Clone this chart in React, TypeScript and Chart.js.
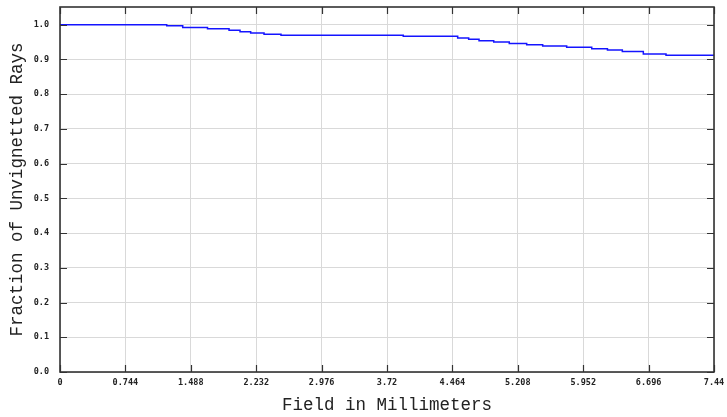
import React, { useEffect, useRef } from "react";
import { Chart, registerables } from "chart.js";

Chart.register(...registerables);

// Field positions (mm) where each vignetting step begins, with the fraction that holds from there on
const fieldMm = [0, 1.214, 1.396, 1.678, 1.923, 2.048, 2.169, 2.321, 2.514, 3.905, 4.524, 4.649, 4.767, 4.934, 5.111, 5.309, 5.491, 5.764, 6.049, 6.228, 6.397, 6.636, 6.894, 7.44];
const fraction = [1.0, 0.997, 0.992, 0.9885, 0.984, 0.98, 0.976, 0.9726, 0.97, 0.9665, 0.9616, 0.958, 0.954, 0.95, 0.946, 0.942, 0.9385, 0.935, 0.931, 0.927, 0.923, 0.916, 0.912, 0.912];

const xTicks = [0, 0.744, 1.488, 2.232, 2.976, 3.72, 4.464, 5.208, 5.952, 6.696, 7.44];
const xTickLabels = ["0", "0.744", "1.488", "2.232", "2.976", "3.72", "4.464", "5.208", "5.952", "6.696", "7.44"];
const yTicks = [0, 0.1, 0.2, 0.3, 0.4, 0.5, 0.6, 0.7, 0.8, 0.9, 1.0];
const yTickLabels = ["0.0", "0.1", "0.2", "0.3", "0.4", "0.5", "0.6", "0.7", "0.8", "0.9", "1.0"];

const xTitle = "Field in Millimeters";
const yTitle = "Fraction of Unvignetted Rays";

const framePlugin = {
  id: "frameAndInwardTicks",
  afterDraw(chart: any) {
    const { ctx, chartArea } = chart;
    const { left, right, top, bottom } = chartArea;
    const xs = chart.scales.x;
    const ys = chart.scales.y;
    ctx.save();
    ctx.strokeStyle = "#333333";
    ctx.lineWidth = 1.2;
    const tl = 7;
    ctx.beginPath();
    xTicks.forEach((v) => {
      const px = Math.round(xs.getPixelForValue(v)) + 0.5;
      ctx.moveTo(px, bottom);
      ctx.lineTo(px, bottom - tl);
      ctx.moveTo(px, top);
      ctx.lineTo(px, top + tl);
    });
    yTicks.forEach((v) => {
      const py = Math.round(ys.getPixelForValue(v)) + 0.5;
      ctx.moveTo(left, py);
      ctx.lineTo(left + tl, py);
      ctx.moveTo(right, py);
      ctx.lineTo(right - tl, py);
    });
    ctx.stroke();
    ctx.lineWidth = 1.6;
    ctx.strokeRect(left, top, right - left, bottom - top);

    ctx.fillStyle = "#222222";
    ctx.font = "17.5px 'Liberation Mono'";
    ctx.textAlign = "center";
    ctx.textBaseline = "middle";
    ctx.fillText(xTitle, (left + right) / 2, 405);
    ctx.translate(17, (top + bottom) / 2);
    ctx.rotate(-Math.PI / 2);
    ctx.fillText(yTitle, 0, 0);
    ctx.restore();
  },
};

const zeroPad = (scale: any) => {
  scale.paddingLeft = 0;
  scale.paddingRight = 0;
  scale.paddingTop = 0;
  scale.paddingBottom = 0;
};

export default function App() {
  const ref = useRef<HTMLCanvasElement | null>(null);
  useEffect(() => {
    if (!ref.current) return;
    const points = fieldMm.map((x, i) => ({ x, y: fraction[i] }));
    const tickFont = { family: "'DejaVu Sans Mono'", size: 8.5, weight: "bold" as const };
    const chart = new Chart(ref.current, {
      type: "line",
      data: {
        datasets: [
          {
            data: points,
            borderColor: "rgb(20,20,255)",
            borderWidth: 1.5,
            pointRadius: 0,
            stepped: true,
            fill: false,
          },
        ],
      },
      plugins: [framePlugin],
      options: {
        animation: false,
        responsive: false,
        devicePixelRatio: 1,
        layout: { padding: { top: 7, right: 13, left: 0, bottom: 0 } },
        plugins: { legend: { display: false }, tooltip: { enabled: false } },
        scales: {
          x: {
            type: "linear",
            min: 0,
            max: 7.44,
            border: { display: false },
            grid: { color: "#d9d9d9", lineWidth: 1, drawTicks: false },
            afterBuildTicks: (scale: any) => {
              scale.ticks = xTicks.map((v) => ({ value: v }));
            },
            afterFit: (scale: any) => {
              scale.height = 45;
              zeroPad(scale);
            },
            ticks: {
              padding: 6,
              maxRotation: 0,
              autoSkip: false,
              color: "#222222",
              font: tickFont,
              callback: (_v: any, i: number) => xTickLabels[i],
            },
          },
          y: {
            type: "linear",
            min: 0,
            max: 1.051,
            border: { display: false },
            grid: { color: "#d9d9d9", lineWidth: 1, drawTicks: false },
            afterBuildTicks: (scale: any) => {
              scale.ticks = yTicks.map((v) => ({ value: v }));
            },
            afterFit: (scale: any) => {
              scale.width = 60;
              zeroPad(scale);
            },
            ticks: {
              padding: 11,
              autoSkip: false,
              color: "#222222",
              font: tickFont,
              callback: (_v: any, i: number) => yTickLabels[i],
            },
          },
        },
      },
    });
    return () => chart.destroy();
  }, []);
  return (
    <div style={{ position: "absolute", left: 0, top: 0, width: 727, height: 417, background: "#ffffff" }}>
      <canvas ref={ref} width={727} height={417} style={{ display: "block" }} />
    </div>
  );
}
